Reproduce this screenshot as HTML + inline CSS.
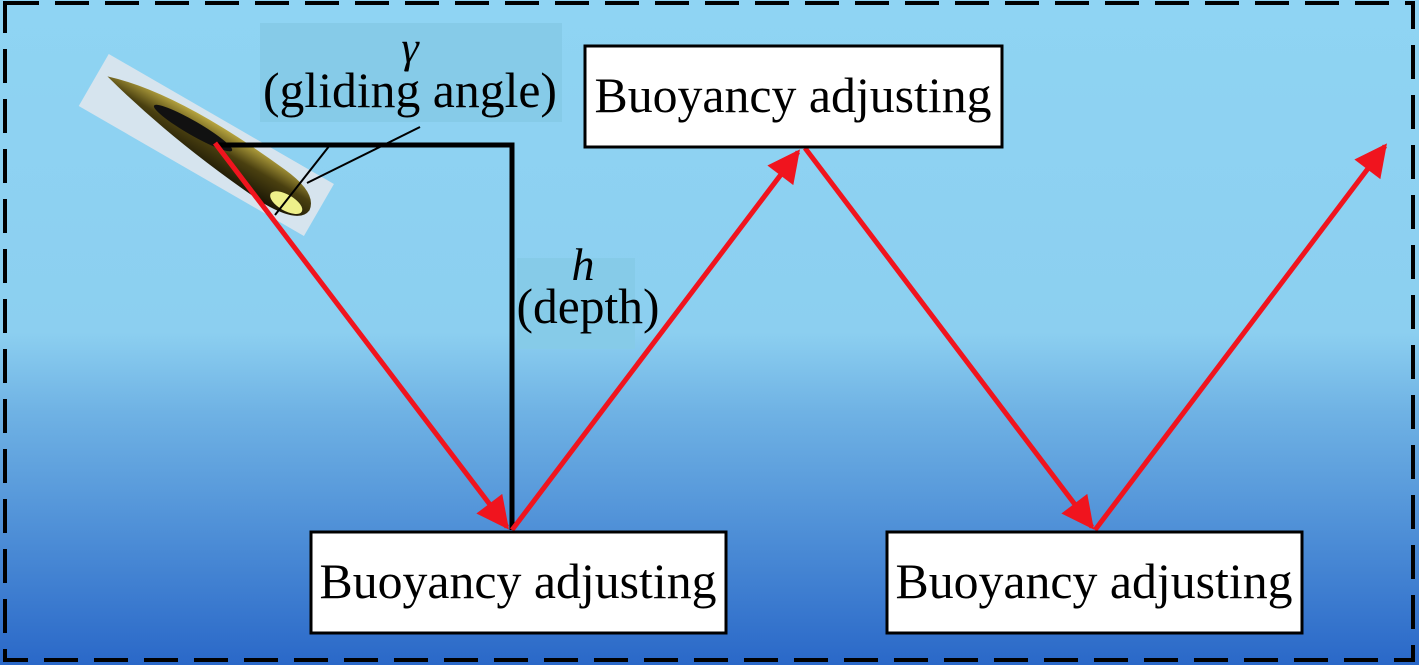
<!DOCTYPE html>
<html><head><meta charset="utf-8"><style>
html,body{margin:0;padding:0;width:1419px;height:665px;overflow:hidden;background:#fff}
svg{display:block}
text{font-family:"Liberation Serif",serif;fill:#000}
</style></head><body>
<svg width="1419" height="665" viewBox="0 0 1419 665" xmlns="http://www.w3.org/2000/svg">
<defs>
<linearGradient id="bg" x1="0" y1="0" x2="0" y2="1">
<stop offset="0" stop-color="#8fd4f3"/>
<stop offset="0.5" stop-color="#8ccff0"/>
<stop offset="0.62" stop-color="#6fb2e4"/>
<stop offset="1" stop-color="#2a68c8"/>
</linearGradient>
<linearGradient id="gl" x1="0" y1="0" x2="0" y2="1">
<stop offset="0" stop-color="#b8a640"/>
<stop offset="0.45" stop-color="#4a4010"/>
<stop offset="1" stop-color="#1a1605"/>
</linearGradient>
<marker id="ah" viewBox="0 0 10 10" refX="9" refY="5" markerWidth="7.5" markerHeight="6.5" markerUnits="strokeWidth" orient="auto">
<path d="M0,0 L10,5 L0,10 z" fill="#f0141e"/>
</marker>
</defs>
<rect x="0" y="0" width="1419" height="665" fill="url(#bg)"/>
<rect x="5" y="3" width="1408" height="657" fill="none" stroke="#000" stroke-width="4" stroke-dasharray="34,16"/>
<rect x="260" y="23" width="302" height="99" fill="#86cbe8"/>
<rect x="517" y="258" width="118" height="91" fill="#86cbe8"/>
<g transform="translate(215,150) rotate(30)">
<rect x="-140" y="-30" width="260" height="60" fill="#d6e4ee"/>
<path d="M-130,-10 Q-60,-32 70,-18 Q110,-14 112,5 Q110,22 70,22 Q-40,14 -130,-10 z" fill="url(#gl)"/>
<ellipse cx="-30" cy="-8" rx="45" ry="7" fill="#111"/>
<ellipse cx="88" cy="10" rx="18" ry="8" fill="#eef08a"/>
</g>
<polyline points="215,145 512,145 512,530" fill="none" stroke="#000" stroke-width="5"/>
<line x1="275" y1="215" x2="330" y2="145" stroke="#000" stroke-width="2"/>
<line x1="307" y1="183" x2="420" y2="127" stroke="#000" stroke-width="2"/>
<g stroke="#f0141e" stroke-width="5" fill="none">
<line x1="215" y1="143" x2="507" y2="527" marker-end="url(#ah)"/>
<line x1="512" y1="530" x2="798" y2="152" marker-end="url(#ah)"/>
<line x1="805" y1="148" x2="1092" y2="527" marker-end="url(#ah)"/>
<line x1="1095" y1="530" x2="1385" y2="146" marker-end="url(#ah)"/>
</g>
<g fill="#fff" stroke="#000" stroke-width="3">
<rect x="585" y="46" width="417" height="101"/>
<rect x="311" y="532" width="415" height="101"/>
<rect x="887" y="532" width="415" height="101"/>
</g>
<g font-size="50" text-anchor="middle">
<text x="793" y="112" textLength="397" lengthAdjust="spacingAndGlyphs">Buoyancy adjusting</text>
<text x="518" y="598" textLength="397" lengthAdjust="spacingAndGlyphs">Buoyancy adjusting</text>
<text x="1094" y="598" textLength="397" lengthAdjust="spacingAndGlyphs">Buoyancy adjusting</text>
<text x="410" y="62" font-style="italic" font-size="44">γ</text>
<text x="410" y="107" textLength="294" lengthAdjust="spacingAndGlyphs">(gliding angle)</text>
<text x="583" y="280" font-style="italic" font-size="46">h</text>
<text x="588" y="323" textLength="143" lengthAdjust="spacingAndGlyphs">(depth)</text>
</g>
</svg>
</body></html>
